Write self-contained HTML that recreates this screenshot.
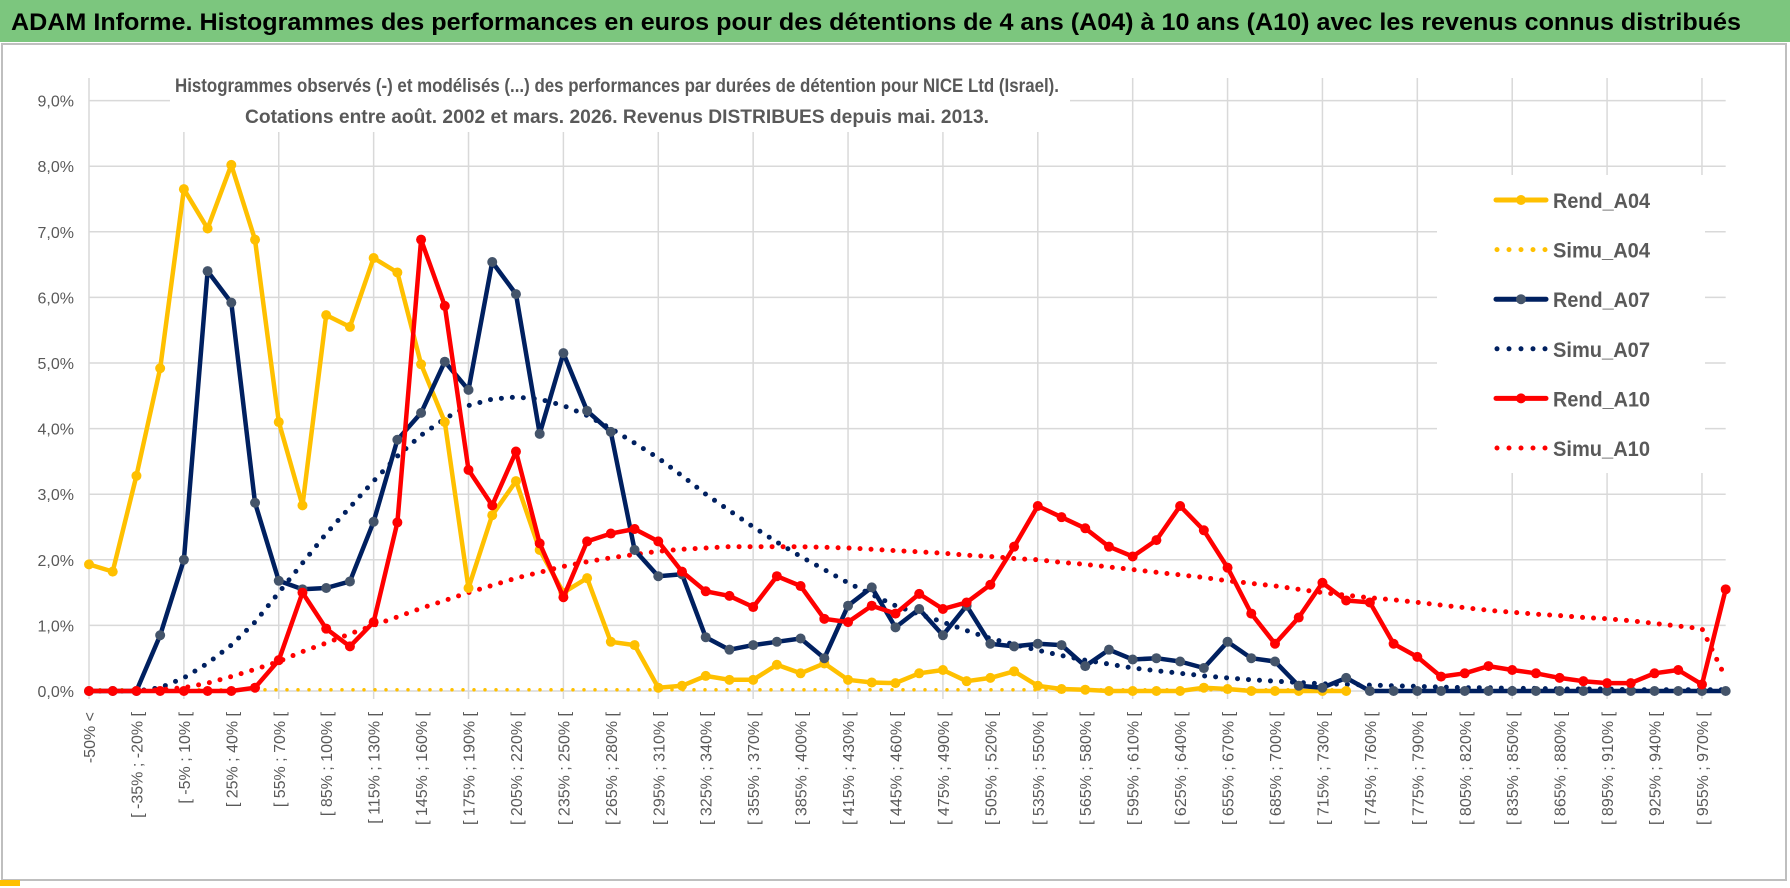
<!DOCTYPE html>
<html><head><meta charset="utf-8"><style>
body{margin:0;background:#fff;width:1790px;height:888px;overflow:hidden}
svg{display:block;font-family:"Liberation Sans",sans-serif}
</style></head><body>
<svg id="chart" width="1790" height="888" viewBox="0 0 1790 888">
<rect x="0" y="0" width="1790" height="888" fill="#fff"/>
<rect x="0" y="0" width="1790" height="42" fill="#7cc67e"/>
<text x="11" y="30" text-anchor="start" font-size="24" font-weight="bold" fill="#000" textLength="1730" lengthAdjust="spacingAndGlyphs">ADAM Informe. Histogrammes des performances en euros pour des détentions de 4 ans (A04) à 10 ans (A10) avec les revenus connus distribués</text>
<rect x="2" y="44" width="1784" height="836" fill="none" stroke="#bfbfbf" stroke-width="2"/>
<g id="grid"></g>
<rect x="170" y="68" width="900" height="64" fill="#fff"/>
<text x="617" y="92" text-anchor="middle" font-size="19" font-weight="bold" fill="#595959" textLength="884" lengthAdjust="spacingAndGlyphs">Histogrammes observés (-) et modélisés (...) des performances par durées de détention pour NICE Ltd (Israel).</text>
<text x="617" y="123" text-anchor="middle" font-size="19" font-weight="bold" fill="#595959" textLength="744" lengthAdjust="spacingAndGlyphs">Cotations entre août. 2002 et mars. 2026. Revenus DISTRIBUES depuis mai. 2013.</text>
<g id="axes"></g>
<g id="series"></g>
<g id="legend"></g>
<rect x="0" y="880" width="20" height="6" fill="#ffc000"/>
</svg>
<script>
const yTicks = ["0,0%","1,0%","2,0%","3,0%","4,0%","5,0%","6,0%","7,0%","8,0%","9,0%"];
const categories = [];
categories.push("-50% <");
for (let b = -50; b <= 970; b += 15) categories.push("[ " + b + "% ; " + (b + 15) + "% [");
const rendA04 = [1.93,1.82,3.28,4.92,7.65,7.05,8.02,6.88,4.1,2.83,5.73,5.55,6.6,6.38,4.98,4.1,1.57,2.68,3.2,2.15,1.5,1.72,0.75,0.7,0.05,0.08,0.23,0.17,0.17,0.4,0.27,0.42,0.17,0.13,0.12,0.27,0.32,0.15,0.2,0.3,0.08,0.03,0.02,0.0,0.0,0.0,0.0,0.05,0.03,0.0,0.0,0.0,0.0,0.0,null,null,null,null,null,null,null,null,null,null,null,null,null,null,null,null];
const simuA04 = [0.02,0.02,0.02,0.02,0.02,0.02,0.02,0.02,0.02,0.02,0.02,0.02,0.02,0.02,0.02,0.02,0.02,0.02,0.02,0.02,0.02,0.02,0.02,0.02,0.02,0.02,0.02,0.02,0.02,0.02,0.02,0.02,0.02,0.02,0.02,0.02,0.02,0.02,0.02,0.02,0.02,0.02,0.02,0.02,0.02,0.02,0.02,0.02,0.02,0.02,0.02,0.02,0.02,0.02,null,null,null,null,null,null,null,null,null,null,null,null,null,null,null,null];
const rendA07 = [0,0,0,0.85,2.0,6.4,5.92,2.87,1.68,1.55,1.57,1.67,2.58,3.83,4.24,5.02,4.59,6.54,6.05,3.92,5.15,4.27,3.95,2.15,1.75,1.78,0.82,0.63,0.7,0.75,0.8,0.5,1.3,1.58,0.97,1.25,0.85,1.3,0.72,0.68,0.72,0.7,0.38,0.63,0.48,0.5,0.45,0.35,0.75,0.5,0.45,0.08,0.05,0.2,0,0,0,0,0,0,0,0,0,0,0,0,0,0,0,0];
const simuA07 = [0,0,0,0.05,0.2,0.42,0.7,1.05,1.5,1.95,2.4,2.8,3.2,3.58,3.9,4.15,4.35,4.45,4.48,4.45,4.35,4.2,4.0,3.78,3.55,3.28,3.0,2.75,2.5,2.27,2.05,1.85,1.65,1.47,1.3,1.17,1.05,0.92,0.8,0.71,0.62,0.54,0.47,0.41,0.35,0.31,0.27,0.23,0.2,0.17,0.15,0.13,0.11,0.1,0.09,0.08,0.07,0.06,0.05,0.05,0.04,0.04,0.03,0.03,0.03,0.02,0.02,0.02,0.02,0.02];
const rendA10 = [0,0,0,0,0,0,0,0.05,0.47,1.5,0.95,0.68,1.05,2.57,6.88,5.87,3.37,2.83,3.65,2.25,1.43,2.28,2.4,2.47,2.28,1.82,1.52,1.45,1.28,1.75,1.6,1.1,1.05,1.3,1.18,1.48,1.25,1.35,1.62,2.2,2.82,2.65,2.48,2.2,2.05,2.3,2.82,2.45,1.88,1.18,0.72,1.12,1.65,1.38,1.35,0.72,0.52,0.22,0.27,0.38,0.32,0.27,0.2,0.15,0.12,0.12,0.27,0.32,0.1,1.55];
const simuA10 = [0,0,0,0.02,0.05,0.12,0.22,0.33,0.45,0.6,0.73,0.87,1.0,1.13,1.26,1.38,1.5,1.61,1.72,1.81,1.9,1.97,2.03,2.08,2.13,2.16,2.18,2.2,2.2,2.2,2.2,2.19,2.18,2.16,2.14,2.12,2.1,2.07,2.05,2.02,2.0,1.96,1.93,1.89,1.85,1.81,1.77,1.73,1.68,1.64,1.6,1.55,1.5,1.46,1.42,1.39,1.35,1.31,1.27,1.23,1.2,1.17,1.15,1.12,1.1,1.07,1.03,0.99,0.95,0.2];
const NS="http://www.w3.org/2000/svg";
const X0=89, DX=23.72, Y0=691, DY=65.6;
function xs(i){return X0+i*DX;}
function ys(v){return Y0-v*DY;}
function mk(tag,attrs,parent){const e=document.createElementNS(NS,tag);for(const k in attrs)e.setAttribute(k,attrs[k]);parent.appendChild(e);return e;}
const grid=document.getElementById('grid'), axes=document.getElementById('axes'), ser=document.getElementById('series'), leg=document.getElementById('legend');
for(let t=0;t<yTicks.length;t++){
  const g=mk('line',{x1:X0,x2:xs(categories.length-1),y1:ys(t),y2:ys(t),stroke:'#d9d9d9','stroke-width':1.5},grid);
  
  
  const tx=mk('text',{x:74,y:ys(t)+6,'text-anchor':'end','font-size':16,fill:'#595959'},axes);
  tx.textContent=yTicks[t];
  
  
}
for(let i=0;i<categories.length;i+=4){
  const g=mk('line',{x1:xs(i),x2:xs(i),y1:78,y2:Y0+8,stroke:'#d9d9d9','stroke-width':1.5},grid);
  
  
}
for(let i=0;i<categories.length;i+=2){
  const tx=mk('text',{x:0,y:0,'text-anchor':'end','font-size':16,fill:'#595959',transform:'translate('+(xs(i)+6)+',712) rotate(-90)'},axes);
  tx.textContent=categories[i];
  
  
}
function path(arr){let d='',pen=false;arr.forEach((v,i)=>{if(v==null){pen=false;return;}d+=(pen?'L':'M')+xs(i).toFixed(1)+','+ys(v).toFixed(1);pen=true;});return d;}
function dotted(arr,color,name){
  const p=mk('path',{d:path(arr),fill:'none',stroke:color,'stroke-width':name==='simu-a04'?3.5:5,'stroke-dasharray':'0 11','stroke-linecap':'round'},ser);
  
  
}
function solid(arr,color,mcolor,name){
  const p=mk('path',{d:path(arr),fill:'none',stroke:color,'stroke-width':4.5,'stroke-linejoin':'round'},ser);
  
  
  arr.forEach((v,i)=>{if(v==null)return;
    const c=mk('circle',{cx:xs(i),cy:ys(v),r:5,fill:mcolor},ser);
    
    
  });
}
dotted(simuA04,'#ffc000','simu-a04');
dotted(simuA07,'#002060','simu-a07');
dotted(simuA10,'#ff0000','simu-a10');
solid(rendA04,'#ffc000','#ffc000','rend-a04');
solid(rendA07,'#002060','#44546a','rend-a07');
solid(rendA10,'#ff0000','#ff0000','rend-a10');
mk('rect',{x:1437,y:175,width:268,height:298,fill:'#fff'},leg);
const legNames=["Rend_A04","Simu_A04","Rend_A07","Simu_A07","Rend_A10","Simu_A10"];
const legColors=["#ffc000","#ffc000","#002060","#002060","#ff0000","#ff0000"];
const legMark=["#ffc000",null,"#44546a",null,"#ff0000",null];
for(let k=0;k<6;k++){
  const y=200+k*49.6;
  if(legMark[k]){
    mk('line',{x1:1496,x2:1546,y1:y,y2:y,stroke:legColors[k],'stroke-width':5,'stroke-linecap':'round'},leg);
    mk('circle',{cx:1521,cy:y,r:5,fill:legMark[k]},leg);
  } else {
    mk('line',{x1:1497,x2:1547,y1:y,y2:y,stroke:legColors[k],'stroke-width':5,'stroke-dasharray':'0 12','stroke-linecap':'round'},leg);
  }
  const t=mk('text',{x:1553,y:y+8,'font-size':21,'font-weight':'bold',fill:'#595959',textLength:97,lengthAdjust:'spacingAndGlyphs'},leg);
  t.textContent=legNames[k];
  
  
}
</script>
</body></html>
